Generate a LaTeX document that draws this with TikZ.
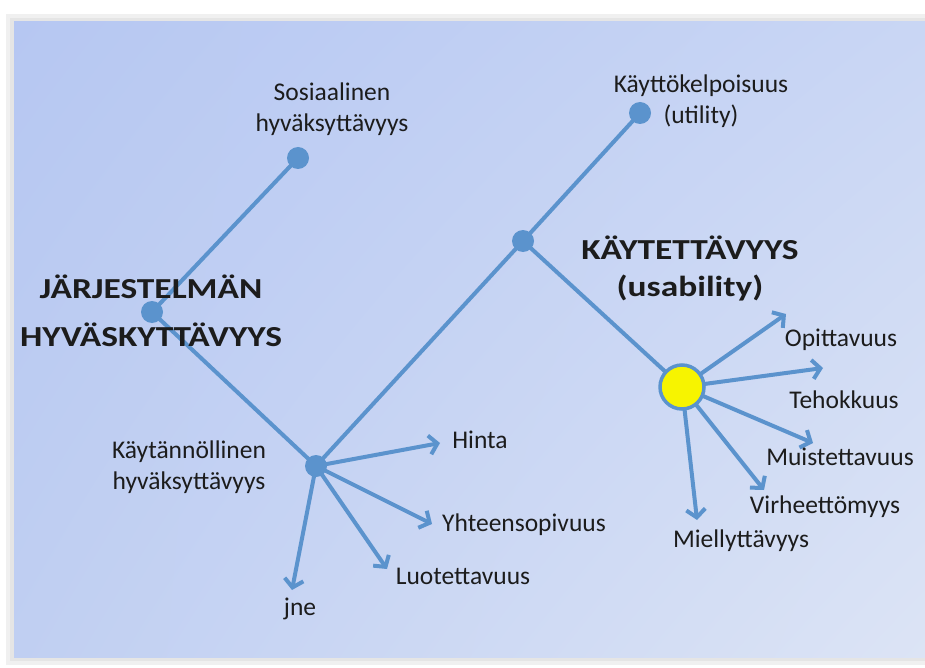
\documentclass[tikz,border=0pt]{standalone}
\usepackage{fontspec}
\setmainfont{Carlito}
\newfontfamily\widefont{Carlito}[FakeStretch=1.22]
\usetikzlibrary{arrows.meta,shadings}
\definecolor{lineblue}{HTML}{5B93CD}
\definecolor{txt}{HTML}{1C1C1C}
\definecolor{bgTL}{HTML}{B6C7F2}
\definecolor{bgTR}{HTML}{C9D6F4}
\definecolor{bgBL}{HTML}{C0CFF2}
\definecolor{bgBR}{HTML}{DCE4F5}
\definecolor{sunny}{HTML}{F7F400}
\begin{document}
\begin{tikzpicture}[x=1pt,y=-1pt,
  dot/.style={circle,fill=lineblue,inner sep=0pt,minimum size=22pt},
  conn/.style={draw=lineblue,line width=4pt},
  arr/.style={conn,-{Straight Barb[length=8pt,width=19pt]}},
  lbl/.style={font=\fontsize{25.5}{31}\selectfont,text=txt,inner sep=0pt,align=center},
  big/.style={text=txt,inner sep=0pt,align=center}]
\useasboundingbox (0,0) rectangle (925,668);
% page and shadow
\fill[white] (0,0) rectangle (925,668);
\fill[black!6] (6,14) rectangle (925,665);
\fill[black!10] (10,18) rectangle (925,661);
% panel
\shade[upper left=bgTL,upper right=bgTR,lower left=bgBL,lower right=bgBR]
  (14,22) rectangle (925,657);
% dots
\node[dot] (sos) at (298,158) {};
\node[dot] (jarj) at (152,312) {};
\node[dot] (kayt) at (316,466) {};
\node[dot] (mid) at (523,241) {};
\node[dot] (util) at (640,113) {};
\coordinate (usaC) at (682,387);
% arrow ends
\coordinate (tHinta) at (440,443);
\coordinate (tYht) at (432,524);
\coordinate (tLuo) at (387,569);
\coordinate (tJne) at (292,590);
\coordinate (tOpi) at (786,314);
\coordinate (tTeh) at (823,368);
\coordinate (tMui) at (813,443);
\coordinate (tVir) at (764,490);
\coordinate (tMie) at (697,520);
% connectors
\draw[conn] (jarj.center) -- (sos.center);
\draw[conn] (jarj.center) -- (kayt.center);
\draw[conn] (kayt.center) -- (mid.center);
\draw[conn] (mid.center) -- (util.center);
\draw[conn] (mid.center) -- (usaC);
\draw[arr] (kayt.center) -- (tHinta);
\draw[arr] (kayt.center) -- (tYht);
\draw[arr] (kayt.center) -- (tLuo);
\draw[arr] (kayt.center) -- (tJne);
\draw[arr] (usaC) -- (tOpi);
\draw[arr] (usaC) -- (tTeh);
\draw[arr] (usaC) -- (tMui);
\draw[arr] (usaC) -- (tVir);
\draw[arr] (usaC) -- (tMie);
\node[circle,fill=sunny,draw=lineblue,line width=3.5pt,minimum size=44pt,inner sep=0pt] (usa) at (usaC) {};
% labels
\node[lbl] (lSos) at (332,109) {Sosiaalinen\\hyväksyttävyys};
\node[lbl] (lUtil) at (701,101) {Käyttökelpoisuus\\(utility)};
\node[lbl] (lKayt) at (189,467) {Käytännöllinen\\hyväksyttävyys};
\node[big,font=\widefont\fontsize{29}{48}\selectfont\bfseries] (lJarj) at (151,311) {JÄRJESTELMÄN\\HYVÄSKYTTÄVYYS};
\node[big,font=\widefont\fontsize{29}{37}\selectfont\bfseries] (lUsa) at (690,268) {KÄYTETTÄVYYS\\(usability)};
\node[lbl,anchor=base] (lHinta) at (480,448) {Hinta};
\node[lbl,anchor=base] (lYht) at (524,531) {Yhteensopivuus};
\node[lbl,anchor=base] (lLuo) at (463,584) {Luotettavuus};
\node[lbl,anchor=base] (lJne) at (300,615) {jne};
\node[lbl,anchor=base] (lOpi) at (841,346) {Opittavuus};
\node[lbl,anchor=base] (lTeh) at (844,408) {Tehokkuus};
\node[lbl,anchor=base] (lMui) at (840,465) {Muistettavuus};
\node[lbl,anchor=base] (lVir) at (825,513) {Virheettömyys};
\node[lbl,anchor=base] (lMie) at (741,547) {Miellyttävyys};
\end{tikzpicture}
\end{document}
